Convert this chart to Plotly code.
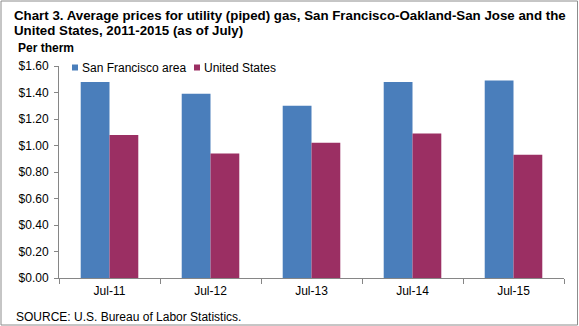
import plotly.graph_objects as go

# Average July prices for piped utility gas, dollars per therm
periods = ["Jul-11", "Jul-12", "Jul-13", "Jul-14", "Jul-15"]
sf_area = [1.48, 1.39, 1.30, 1.48, 1.49]
us_avg = [1.08, 0.94, 1.02, 1.09, 0.93]
series_names = ["San Francisco area", "United States"]
series_colors = ["#4A7EBB", "#9B2F63"]
y_ticks = [0, 0.2, 0.4, 0.6, 0.8, 1.0, 1.2, 1.4, 1.6]
y_labels = ["$%.2f" % v for v in y_ticks]

W, H = 579, 326
ML, MR, MT, MB = 59, 15, 66, 48
PW, PH = W - ML - MR, H - MT - MB

FONT = "Liberation Sans, Arial, sans-serif"
AXIS_GREY = "#868686"

fig = go.Figure()
for name, vals, col in zip(series_names, [sf_area, us_avg], series_colors):
    fig.add_trace(go.Bar(name=name, x=periods, y=vals, showlegend=False,
                         marker=dict(color=col, line=dict(width=0))))


def px_x(p):
    return (p - ML) / PW


def px_y(p):
    return 1 - (p - MT) / PH


fig.update_layout(
    width=W, height=H,
    margin=dict(l=ML, r=MR, t=MT, b=MB, pad=0),
    paper_bgcolor="white", plot_bgcolor="white",
    font=dict(family=FONT, size=12, color="#000000"),
    barmode="group", bargap=0.43, bargroupgap=0,
    showlegend=False,
    xaxis=dict(showline=True, linecolor=AXIS_GREY, linewidth=1,
               ticks="outside", tickson="boundaries", ticklen=5,
               tickcolor=AXIS_GREY, showgrid=False, ticklabelstandoff=2,
               tickfont=dict(family=FONT, size=12)),
    yaxis=dict(range=[0, 1.6], tickvals=y_ticks, ticktext=y_labels,
               showline=True, linecolor=AXIS_GREY, linewidth=1,
               ticks="outside", ticklen=4, tickcolor=AXIS_GREY,
               showgrid=False, zeroline=False, ticklabelstandoff=3,
               tickfont=dict(family=FONT, size=12)),
)

annotations = [
    dict(text="<b>Chart 3. Average prices for utility (piped) gas, San Francisco-Oakland-San Jose and the</b>",
         x=px_x(12), y=px_y(15), xanchor="left", yanchor="middle",
         font=dict(family=FONT, size=13.3)),
    dict(text="<b>United States, 2011-2015 (as of July)</b>",
         x=px_x(12), y=px_y(30.5), xanchor="left", yanchor="middle",
         font=dict(family=FONT, size=13.3)),
    dict(text="<b>Per therm</b>", x=px_x(16), y=px_y(48), xanchor="left",
         yanchor="middle", font=dict(family=FONT, size=12)),
    dict(text="SOURCE: U.S. Bureau of Labor Statistics.", x=px_x(14),
         y=px_y(316.5), xanchor="left", yanchor="middle",
         font=dict(family=FONT, size=12)),
]

# Legend: small colour keys followed by series names, placed inside the top of the plot
legend_keys_x = [72, 194]
for kx, name, col in zip(legend_keys_x, series_names, series_colors):
    fig.add_shape(type="rect", xref="paper", yref="paper",
                  x0=px_x(kx), x1=px_x(kx + 6), y0=px_y(70.5), y1=px_y(64.5),
                  line=dict(width=0), fillcolor=col)
    annotations.append(dict(text=name, x=px_x(kx + 8), y=px_y(67.5),
                            xanchor="left", yanchor="middle",
                            font=dict(family=FONT, size=12)))

for a in annotations:
    a.update(xref="paper", yref="paper", showarrow=False)
fig.update_layout(annotations=annotations)

# Outer frame around the whole chart
fig.add_shape(type="rect", xref="paper", yref="paper",
              x0=px_x(1), x1=px_x(577.5), y0=px_y(325), y1=px_y(1),
              line=dict(color="#8C8C8C", width=1), fillcolor="rgba(0,0,0,0)")

fig.write_html("out.html")
